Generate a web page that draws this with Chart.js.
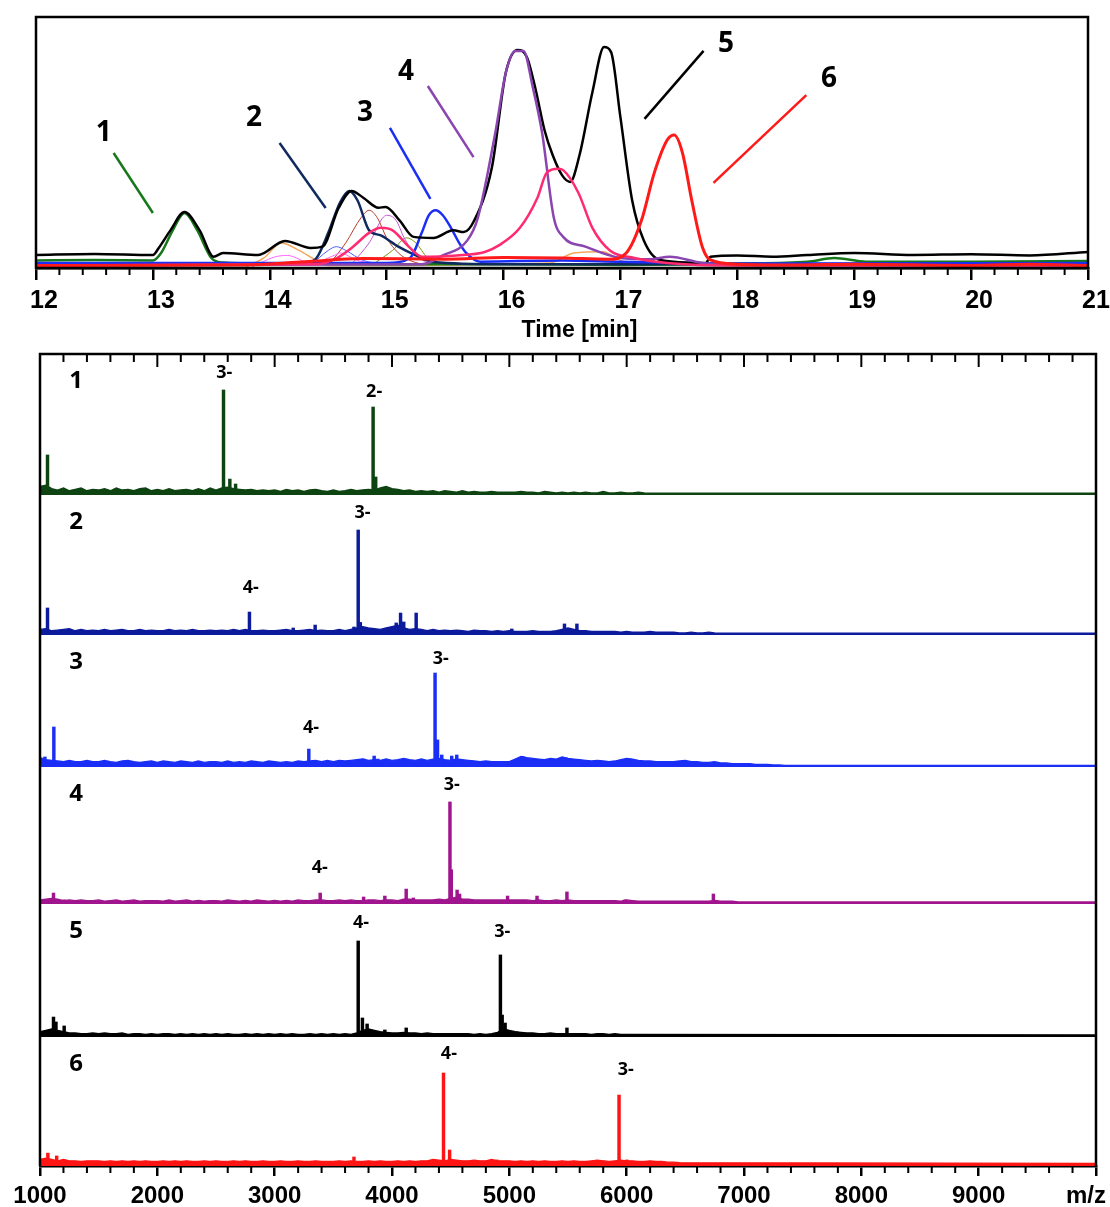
<!DOCTYPE html>
<html>
<head>
<meta charset="utf-8">
<script src="https://cdn.jsdelivr.net/npm/chart.js@4.4.1/dist/chart.umd.min.js"></script>
<style>
  html, body { margin: 0; padding: 0; background: #fff; }
  #page { position: relative; width: 1110px; height: 1207px; overflow: hidden; }
  #chromBox { position: absolute; left: 0; top: 0; width: 1110px; height: 345px; }
  #specBox { position: absolute; left: 0; top: 344px; width: 1110px; height: 863px; }
</style>
</head>
<body>
<div id="page">
  <div id="chromBox"><canvas id="chromChart"></canvas></div>
  <div id="specBox"><canvas id="specChart"></canvas></div>
</div>
<script>
Chart.defaults.font.family = "'Liberation Sans', Arial, sans-serif";
Chart.defaults.color = "#000";

// ---------- chromatogram (top) ----------
const timeTicks = [12, 13, 14, 15, 16, 17, 18, 19, 20, 21];
const timeMinorStep = 0.2;

// [time in min, relative intensity in %]
const ticTrace = [[12,5.2],[12.5,5.6],[13.0,5.2],[13.05,8],[13.15,15],[13.27,22.3],[13.4,15],[13.52,4.5],[13.6,6],[13.9,5.2],
  [14.13,10.8],[14.35,8],[14.45,8.5],[14.59,24],[14.7,30.7],[14.8,28],[14.93,24],[14.99,24.3],[15.11,19],[15.23,12.4],
  [15.4,12],[15.57,15],[15.66,14.3],[15.75,19],[15.9,40],[16.02,78],[16.12,86.9],[16.2,84],[16.27,72],[16.35,55],
  [16.42,45],[16.5,37],[16.57,34.3],[16.65,45],[16.76,70],[16.86,88],[16.92,86],[17.0,60],[17.1,27],[17.2,11],
  [17.34,3.2],[17.73,2],[17.77,4.5],[18.0,5],[18.3,4.5],[18.6,5.2],[19.0,6],[19.5,5.2],[20.0,5.5],[20.5,5],[21,6.4]];
const eic1 = [[12,3],[12.5,3.2],[13.0,3],[13.07,6],[13.17,15],[13.27,21.9],[13.38,15],[13.5,4],[13.6,2.2],[14,1.8],
  [15,1.5],[16,1.5],[17,1.2],[18,1.8],[18.6,2.5],[18.83,4],[19.1,2.5],[20,2.5],[21,2.8]];
const eic2 = [[12,1.5],[14,1.5],[14.3,2],[14.4,4],[14.5,14],[14.6,26],[14.68,30.7],[14.75,27],[14.85,15],[14.95,13],
  [15.05,10],[15.1,8.5],[15.25,5],[15.4,2.4],[16,1.5],[17,1.5],[21,1.5]];
const eic3 = [[12,2],[15.0,2],[15.2,4],[15.3,14],[15.36,21],[15.42,23],[15.48,21],[15.55,16],[15.62,10],[15.68,6],
  [15.8,2.5],[16.5,3],[17,2.5],[18,1.8],[21,2]];
const eic4 = [[12,1],[15.3,1.5],[15.48,5],[15.69,11],[15.78,20],[15.93,54],[16.02,78],[16.1,86.5],[16.17,86.5],[16.25,72],
  [16.33,53.8],[16.43,20],[16.51,12.4],[16.7,8.5],[17.0,4],[17.25,3.5],[17.42,4.5],[17.7,2],[18,1.2],[21,1]];
const eicPink = [[12,1],[14.4,1.5],[14.56,3.6],[14.7,8],[14.85,14],[14.95,16],[15.05,15],[15.2,8],[15.3,4.5],[15.6,5],
  [15.84,6.4],[15.96,9],[16.14,16],[16.29,28],[16.37,38],[16.47,39.5],[16.51,39],[16.64,30],[16.76,16],[16.91,7],
  [17.12,4],[17.4,2],[18,1],[21,1]];
const eic6 = [[12,1],[13.8,1.2],[14.3,2.5],[14.8,3.8],[15.5,3.5],[16,4.2],[16.5,4],[16.9,3.5],[17.05,6],[17.18,19],
  [17.29,38],[17.4,51],[17.46,53],[17.53,46],[17.61,27],[17.7,8.5],[17.77,3.2],[18.0,1.5],[18.5,1.2],[19,1.5],
  [20,1],[20.5,1.5],[21,1]];
const minorOrange = [[13.8,0.5],[13.95,4],[14.1,10],[14.25,7],[14.4,3],[14.5,1],[16.4,2],[16.6,6],[16.85,6.5],[17.0,3],[17.2,1]];
const minorMagenta = [[13.85,0.5],[14.05,4.5],[14.15,5],[14.35,2],[14.55,5],[14.6,6],[14.75,3],[15,1.5]];
const minorBlue = [[14.35,1],[14.5,7],[14.57,8.5],[14.65,7],[14.8,3],[15.0,1.5]];
const minorBrown = [[14.5,1],[14.65,10],[14.78,20],[14.85,23],[14.92,20],[15.0,12],[15.1,6],[15.2,3],[15.3,1.5]];
const minorViolet = [[14.7,1.5],[14.85,10],[15.0,21],[15.08,19],[15.15,12],[15.25,5],[15.35,2]];
const minorOlive = [[14.9,2],[15.05,7],[15.17,12],[15.25,10],[15.35,4],[15.45,2]];

const peakNames = ["1", "2", "3", "4", "5", "6"];
const peakNamePos = [[12.58,53.6],[13.865,59.9],[14.814,61.9],[15.165,77.9],[17.903,89.2],[18.784,75.3]];
const peakLeaders = [[12.664,45.8,13.0,21.9],[14.084,49.8,14.478,23.9],[15.028,55.8,15.374,27.5],
  [15.352,72.5,15.743,44.2],[17.711,86.5,17.206,59.4],[18.59,68.9,17.796,33.9]];
const leaderColors = ["#16781a", "#102a5e", "#1a2ef5", "#8a45b0", "#000000", "#ff1a1a"];

function traceSet(points, color, width) {
  return {
    data: points.map(([t, v]) => ({ x: t, y: v })),
    borderColor: color,
    borderWidth: width,
    pointRadius: 0,
    cubicInterpolationMode: "monotone",
    borderJoinStyle: "round",
    fill: false
  };
}

const chromDecor = {
  id: "chromDecor",
  afterDraw(chart) {
    const { ctx, chartArea: a, scales } = chart;
    const xs = scales.x, ys = scales.y;
    ctx.save();
    ctx.strokeStyle = "#000";
    ctx.lineWidth = 2;
    const first = timeTicks[0], last = timeTicks[timeTicks.length - 1];
    for (let k = 0; first + k * timeMinorStep <= last + 1e-6; k++) {
      const v = first + k * timeMinorStep;
      if (Math.abs(v - Math.round(v)) < 1e-6) continue;
      const px = xs.getPixelForValue(v);
      ctx.beginPath();
      ctx.moveTo(px, a.bottom);
      ctx.lineTo(px, a.bottom + 7);
      ctx.stroke();
    }
    ctx.lineWidth = 2.5;
    ctx.strokeRect(a.left, a.top, a.right - a.left, a.bottom - a.top);

    peakLeaders.forEach(([t1, v1, t2, v2], i) => {
      ctx.strokeStyle = leaderColors[i];
      ctx.lineWidth = 2.5;
      ctx.beginPath();
      ctx.moveTo(xs.getPixelForValue(t1), ys.getPixelForValue(v1));
      ctx.lineTo(xs.getPixelForValue(t2), ys.getPixelForValue(v2));
      ctx.stroke();
    });
    ctx.fillStyle = "#000";
    ctx.font = "bold 28px 'Open Sans'";
    ctx.textAlign = "center";
    ctx.textBaseline = "middle";
    peakNames.forEach((n, i) => {
      ctx.fillText(n, xs.getPixelForValue(peakNamePos[i][0]), ys.getPixelForValue(peakNamePos[i][1]));
    });
    ctx.font = "bold 23px 'Liberation Sans', Arial, sans-serif";
    ctx.textBaseline = "alphabetic";
    ctx.fillText("Time [min]", xs.getPixelForValue(16.65), a.bottom + 69);
    ctx.restore();
  }
};

new Chart(document.getElementById("chromChart"), {
  type: "line",
  data: {
    datasets: [
      traceSet(eic6, "#ff1a1a", 3),
      traceSet(eicPink, "#ff2a70", 2.5),
      traceSet(eic4, "#8a45b0", 2.5),
      traceSet(ticTrace, "#000000", 2.5),
      traceSet(eic3, "#1a2ef5", 2.5),
      traceSet(eic2, "#102a5e", 2.5),
      traceSet(eic1, "#16781a", 2.5),
      traceSet(minorOrange, "#f5a55a", 1.5),
      traceSet(minorMagenta, "#ff66ff", 1),
      traceSet(minorBlue, "#4a5cff", 1),
      traceSet(minorBrown, "#b5402a", 1),
      traceSet(minorViolet, "#c055d0", 1),
      traceSet(minorOlive, "#7a9a10", 1)
    ]
  },
  options: {
    responsive: true,
    maintainAspectRatio: false,
    animation: false,
    devicePixelRatio: 1,
    events: [],
    layout: { padding: { left: 36, right: 22, top: 17, bottom: 0 } },
    plugins: { legend: { display: false }, tooltip: { enabled: false } },
    scales: {
      x: {
        type: "linear",
        min: timeTicks[0],
        max: timeTicks[timeTicks.length - 1],
        afterBuildTicks: s => { s.ticks = timeTicks.map(v => ({ value: v })); },
        afterFit: s => { s.height = 77; },
        ticks: {
          callback: (v, i) => String(timeTicks[i]),
          font: { size: 25, weight: "bold" },
          color: "#000",
          padding: 6,
          labelOffset: 8,
          maxRotation: 0,
          autoSkip: false
        },
        grid: { display: true, drawOnChartArea: false, drawTicks: true, tickLength: 12, color: "#000", lineWidth: 2.5 },
        border: { display: true, color: "#000", width: 2.5 }
      },
      y: { type: "linear", min: 0, max: 100, display: false }
    }
  },
  plugins: [chromDecor]
});

// ---------- mass spectra (bottom) ----------
const mzTicks = [1000, 2000, 3000, 4000, 5000, 6000, 7000, 8000, 9000, 10000];
const mzTickLabels = ["1000", "2000", "3000", "4000", "5000", "6000", "7000", "8000", "9000", ""];
const mzMinorStep = 200;
const noiseStart = 1000;
const noiseStep = 50;

const specColors = ["#0e4412", "#0c1a9c", "#1a2ef5", "#a0148e", "#000000", "#ff1414"];
const panelNames = ["1", "2", "3", "4", "5", "6"];
const panelWeights = [141, 140, 132, 137, 133, 129];

// baseline noise level (% of panel height) every 50 m/z from 1000
const noise1 = [6,7,4.5,3.5,5,3,4,5,3,4, 3.5,4.5,3,5,3.5,4,3,4.5,5,3, 4,3,4.5,3,3.5,4,3,4.5,3,5,
  3.5,5,5.5,4.5,4,3.5,4,3,3.5,3, 3.5,2.5,4,3,3.5,2.5,3.5,4,3,2.5, 3.5,2.5,3,4,3,3.5,4,3.5,5,6,
  4.5,4,3,3.5,2.5,3,2.5,3,2,3, 2.5,2,3,2,2.5,2,2,2.5,2,2, 2,2,2.5,2,2,1.5,2.5,2,1.5,2,
  1.5,2,1.5,2,1.5,1.5,2.5,1.5,1.5,2, 1.5,1.5,2,1.5,1.2];
const noise2 = [4,4.5,3,3.5,4,4.5,3,4,3,3.5, 3,4,3,3.5,4,3,3,4,3,3.5, 3,3,4,3,3.5,3,4,3,3,3.5,
  3,3.5,3,4,3,4,3,3,3.5,3, 3,3.5,4,3,3,3.5,4,3,3.5,3, 3,4,3,4,5,6,5,4.5,4,5,
  6,7,5,4,4.5,4,3,4,3,3.5, 3,3.5,3,2.5,3.5,3,3,2.5,3,2.5, 3,2.5,2.5,2.5,3,2.5,2.5,2.5,3,4,
  5,4,3,3,2.5,2.5,2.5,2.5,2.5,2, 2.5,2,2,2,2.5,2,2,2,2,1.5, 1.5,2,1.5,1.5,2,1.5,1.2];
const noise3 = [7,5.5,5,4.5,4,5,4,4,5,4, 4,5,4,3.5,4.5,5,4,3.5,4,4.5, 3.5,4.5,4,3.5,4.5,4,3.5,4.5,3.5,4,
  4,3.5,4.5,3.5,4,3.5,4.5,4,3.5,4.5, 4,3.5,4,3.5,4.5,4,4.5,5,4,5, 4,5,4.5,5,5.5,6,5,5.5,5,6,
  5,5.5,6.5,5.5,5,6,5,6,6.5,5.5, 5,6,5.5,5,4.5,4,4.5,4,4,4, 4,6,8,7,6.5,6,5.5,6.5,6,7.5,
  6.5,6,5.5,5,4.5,5,4.5,4,4.5,5.5, 6.5,6,5,4.5,4.5,4,4,4,4,4.5, 5,4,4,3.5,3.5,4,3,3,2.5,2.5,
  2.5,2.5,2,2,2,1.5,1.5,1.2];
const noise4 = [3,3.5,4,3.5,2.5,3,2.5,3,2.5,2.5, 3,2,2.5,3,2,2.5,3,2,2.5,2.5, 2.5,2,3,2,2.5,3,2,2.5,2,2.5,
  2.5,2,3,2.5,2,2.5,2,3,2.5,2, 2.5,2,2.5,2,3,2.5,2.5,3,3,2.5, 2.5,3,2.5,3,2.5,2.5,3,3,2.5,3,
  3,2.5,3.5,3.5,3,3,3,3,3.5,3, 4,5,3.5,3.5,3,3,3,3,3,3, 3,3,3,3,2.5,3,2.5,2.5,3,2.5,
  3,2.5,2.5,2.5,2.5,2.5,2.5,2.5,2.5,2, 3,2.5,2,2,2,2,2,2,2,2, 2,2,2,2,2,2.5,2,2,2,1.5];
const noise5 = [4,5,6,5,4,3,3,2.5,2.5,3, 2.5,3,2.5,2.5,3,2,2.5,2.5,2,2.5, 2,2.5,2.5,2,2.5,2,2.5,2,2.5,2,
  2.5,2,2.5,2,2,2.5,2,2.5,2,2.5, 2,2.5,2,2.5,2,2,2.5,2,2.5,2, 2.5,2,2.5,2,3,5,6,5,4,3.5,
  3,3,3.5,3,3,2.5,3,2.5,2.5,2.5, 2.5,2.5,2.5,2.5,2,2.5,2,2.5,3.5,6, 5,4,3.5,3,3,2.5,2.5,3,2.5,2.5,
  2.5,2.5,2.5,2.5,2,2.5,2.5,2,2.5,2, 2];
const noise6 = [5,6,5,4,5,4,4,3.5,4,4, 4,3.5,4,3.5,4,3.5,4,3.5,4,3.5, 3.5,4,3.5,4,3.5,4,3.5,3.5,4,3.5,
  4,3.5,3.5,4,3.5,4,3.5,3.5,4,3.5, 3.5,4,3.5,3.5,4,3.5,3.5,4,3.5,3.5, 3.5,4,3.5,4,3.5,3.5,4,3.5,4,3.5,
  3.5,4,3.5,4,3.5,4,4,5,4.5,4, 5,4.5,4,4,4.5,4,4,5,4,4, 4,3.5,4,3.5,4,3.5,4,3.5,3.5,4,
  3.5,4,3.5,3.5,4,4.5,4,3.5,4,4.5, 4,4,3.5,3.5,4,3.5,3.5,3,3,2.5];
const noiseTail = [1.2, 1.2, 1.2, 1.5, 1.5, 2];

// [m/z, peak height in % of panel height]
const peaks1 = [[1040,6],[1064,28.4],[2564,74.5],[2618,11.3],[2667,7.8],[2700,4],[3839,62.4],[3861,12.8],[3924,5]];
const peaks2 = [[1064,19.3],[2785,16.4],[3158,5],[3345,7.1],[3676,5.7],[3712,75],[3730,9],[4036,8.6],[4073,15.7],
  [4100,9.3],[4206,15.7],[5021,4.3],[5470,7.9],[5576,7.9]];
const peaks3 = [[1042,7.6],[1118,30.3],[3291,13.6],[3636,4.5],[3758,6],[3848,8.3],[3879,6],[4367,71.2],[4388,20.5],
  [4424,9.1],[4509,8.3],[4552,9.1],[5112,8],[5484,6.8]];
const peaks4 = [[1115,8],[1206,3],[3388,8],[3758,5.1],[3939,5.8],[4121,10.9],[4182,4.4],[4494,74.5],[4505,25],
  [4555,10.2],[4576,7.3],[4985,5.8],[5236,5.8],[5491,8.8],[5987,3],[6739,7.3]];
const peaks5 = [[1115,15],[1136,11.3],[1206,8.3],[3712,72.2],[3748,14.3],[3788,9.8],[3939,5.3],[4121,6.8],
  [4924,61.7],[4939,16.5],[4964,10.5],[5061,3.8],[5491,6.8]];
const peaks6 = [[1067,10],[1142,7.8],[3676,7],[4339,3.9],[4439,72.1],[4491,12.4],[4697,3.9],[4894,4.7],
  [5805,3.9],[5935,55],[6002,4.7]];

// [panel, m/z, height %, charge state]
const chargeLabels = [[1,2570,86.5,"3-"],[1,3848,73,"2-"],[2,3748,87,"3-"],[2,2797,34,"4-"],
  [3,4415,82,"3-"],[3,3309,29.5,"4-"],[4,4509,87,"3-"],[4,3385,26.3,"4-"],
  [5,3736,85.7,"4-"],[5,4939,79,"3-"],[6,4485,86.8,"4-"],[6,5993,74.4,"3-"]];

const noiseSets = [noise1, noise2, noise3, noise4, noise5, noise6];
const peakSets = [peaks1, peaks2, peaks3, peaks4, peaks5, peaks6];

const specDatasets = [];
peakSets.forEach((peaks, i) => {
  const axis = "y" + (i + 1);
  specDatasets.push({
    type: "bar",
    yAxisID: axis,
    grouped: false,
    barThickness: 2.8,
    data: peaks.map(([mz, h]) => ({ x: mz, y: h })),
    backgroundColor: specColors[i],
    borderWidth: 0
  });
  specDatasets.push({
    type: "line",
    yAxisID: axis,
    data: noiseSets[i].map((v, k) => ({ x: noiseStart + k * noiseStep, y: v }))
      .concat([{ x: mzTicks[mzTicks.length - 1], y: noiseTail[i] }]),
    borderColor: specColors[i],
    backgroundColor: specColors[i],
    borderWidth: 1.4,
    pointRadius: 0,
    tension: 0,
    fill: "origin"
  });
});

// stacked left axes are laid out last-first, so add them from panel 6 up to panel 1
const specScales = {};
for (let i = peakSets.length - 1; i >= 0; i--) {
  specScales["y" + (i + 1)] = {
    type: "linear", min: 0, max: 100, display: false,
    position: "left", stack: "spectra", stackWeight: panelWeights[i]
  };
}
specScales.x = {
  type: "linear",
  min: mzTicks[0],
  max: mzTicks[mzTicks.length - 1],
  offset: false,
  afterBuildTicks: s => { s.ticks = mzTicks.map(v => ({ value: v })); },
  afterFit: s => { s.height = 41; },
  ticks: {
    callback: (v, i) => mzTickLabels[i],
    font: { size: 24, weight: "bold" },
    color: "#000",
    padding: 6,
    maxRotation: 0,
    autoSkip: false
  },
  grid: { display: true, offset: false, drawOnChartArea: false, drawTicks: true, tickLength: 10, color: "#000", lineWidth: 2.5 },
  border: { display: true, color: "#000", width: 2.5 }
};

const specDecor = {
  id: "specDecor",
  afterDraw(chart) {
    const { ctx, chartArea: a, scales } = chart;
    const xs = scales.x;
    ctx.save();
    ctx.strokeStyle = "#000";
    ctx.lineWidth = 2;
    const first = mzTicks[0], last = mzTicks[mzTicks.length - 1];
    for (let v = first; v <= last; v += mzMinorStep) {
      const px = xs.getPixelForValue(v);
      const major = mzTicks.includes(v);
      ctx.beginPath();
      ctx.moveTo(px, a.top);
      ctx.lineTo(px, a.top + (major ? 13 : 8));
      if (!major) {
        ctx.moveTo(px, a.bottom);
        ctx.lineTo(px, a.bottom + 7);
      }
      ctx.stroke();
    }
    ctx.lineWidth = 2.5;
    ctx.beginPath();
    ctx.moveTo(a.left, a.bottom);
    ctx.lineTo(a.left, a.top);
    ctx.lineTo(a.right, a.top);
    ctx.lineTo(a.right, a.bottom);
    ctx.stroke();

    ctx.fillStyle = "#000";
    ctx.textAlign = "center";
    ctx.textBaseline = "middle";
    ctx.font = "bold 24px 'Open Sans'";
    panelNames.forEach((n, i) => {
      const ys = scales["y" + (i + 1)];
      ctx.fillText(n, a.left + 36, ys.top + 27);
    });
    ctx.font = "bold 18px 'Open Sans'";
    chargeLabels.forEach(([p, mz, h, txt]) => {
      const ys = scales["y" + p];
      ctx.fillText(txt, xs.getPixelForValue(mz), ys.getPixelForValue(h));
    });
    ctx.font = "bold 24px 'Liberation Sans', Arial, sans-serif";
    ctx.textAlign = "right";
    ctx.fillText("m/z", a.right + 10, a.bottom + 30);
    ctx.restore();
  }
};

new Chart(document.getElementById("specChart"), {
  type: "line",
  data: { datasets: specDatasets },
  options: {
    responsive: true,
    maintainAspectRatio: false,
    animation: false,
    devicePixelRatio: 1,
    events: [],
    layout: { padding: { left: 40, right: 14, top: 10, bottom: 0 } },
    plugins: { legend: { display: false }, tooltip: { enabled: false } },
    scales: specScales
  },
  plugins: [specDecor]
});
</script>
</body>
</html>
